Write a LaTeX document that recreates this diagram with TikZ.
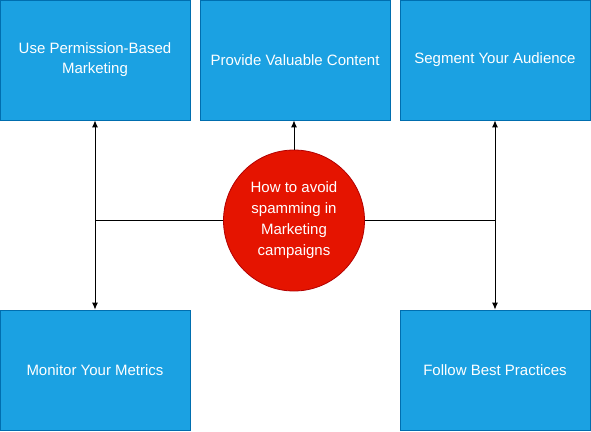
\documentclass[tikz,border=0pt]{standalone}
\usepackage{fontspec}
\setmainfont{Liberation Sans}
\usetikzlibrary{arrows.meta}

\definecolor{boxblue}{HTML}{1BA1E2}
\definecolor{boxedge}{HTML}{006EAF}
\definecolor{hubred}{HTML}{E51400}
\definecolor{hubedge}{HTML}{B20000}

\tikzset{
  tipbox/.style={draw=boxedge, fill=boxblue, line width=0.8pt, minimum width=190pt,
    minimum height=120pt, align=center, text=white, font=\fontsize{15}{20}\selectfont},
  hub/.style={circle, draw=hubedge, fill=hubred, line width=0.8pt, minimum size=141pt,
    inner sep=0pt, align=center, text=white, font=\fontsize{15}{21}\selectfont},
  link/.style={line width=0.9pt, -{Latex[length=7pt,width=6pt]}}
}

\begin{document}
\begin{tikzpicture}[x=1pt,y=-1pt]
    \useasboundingbox (0,0) rectangle (591,431);

    % top row
    \node[tipbox] (perm) at (95,60) {Use Permission-Based\\Marketing};
    \node[tipbox] (content) at (295,60) {Provide Valuable Content};
    \node[tipbox] (segment) at (495,60) {Segment Your Audience};

    % bottom row
    \node[tipbox] (metrics) at (95,370) {Monitor Your Metrics};
    \node[tipbox] (practices) at (495,370) {Follow Best Practices};

    %%%%%%%%%%%%%%%%%%%%%%%%%%%%%%%%%%%%%%%%%%%%%%%%%%%%%%

    % centre topic
    \node[hub] (topic) at (294,220.5) {How to avoid\\spamming in\\Marketing\\campaigns};

    % links to the left
    \draw[link] (topic.west) -| (perm.south);
    \draw[link] (topic.west) -| (metrics.north);

    % link straight up
    \draw[link] (topic.north) -- (topic.north |- content.south);

    % links to the right
    \draw[link] (topic.east) -| (segment.south);
    \draw[link] (topic.east) -| (practices.north);

\end{tikzpicture}
\end{document}
